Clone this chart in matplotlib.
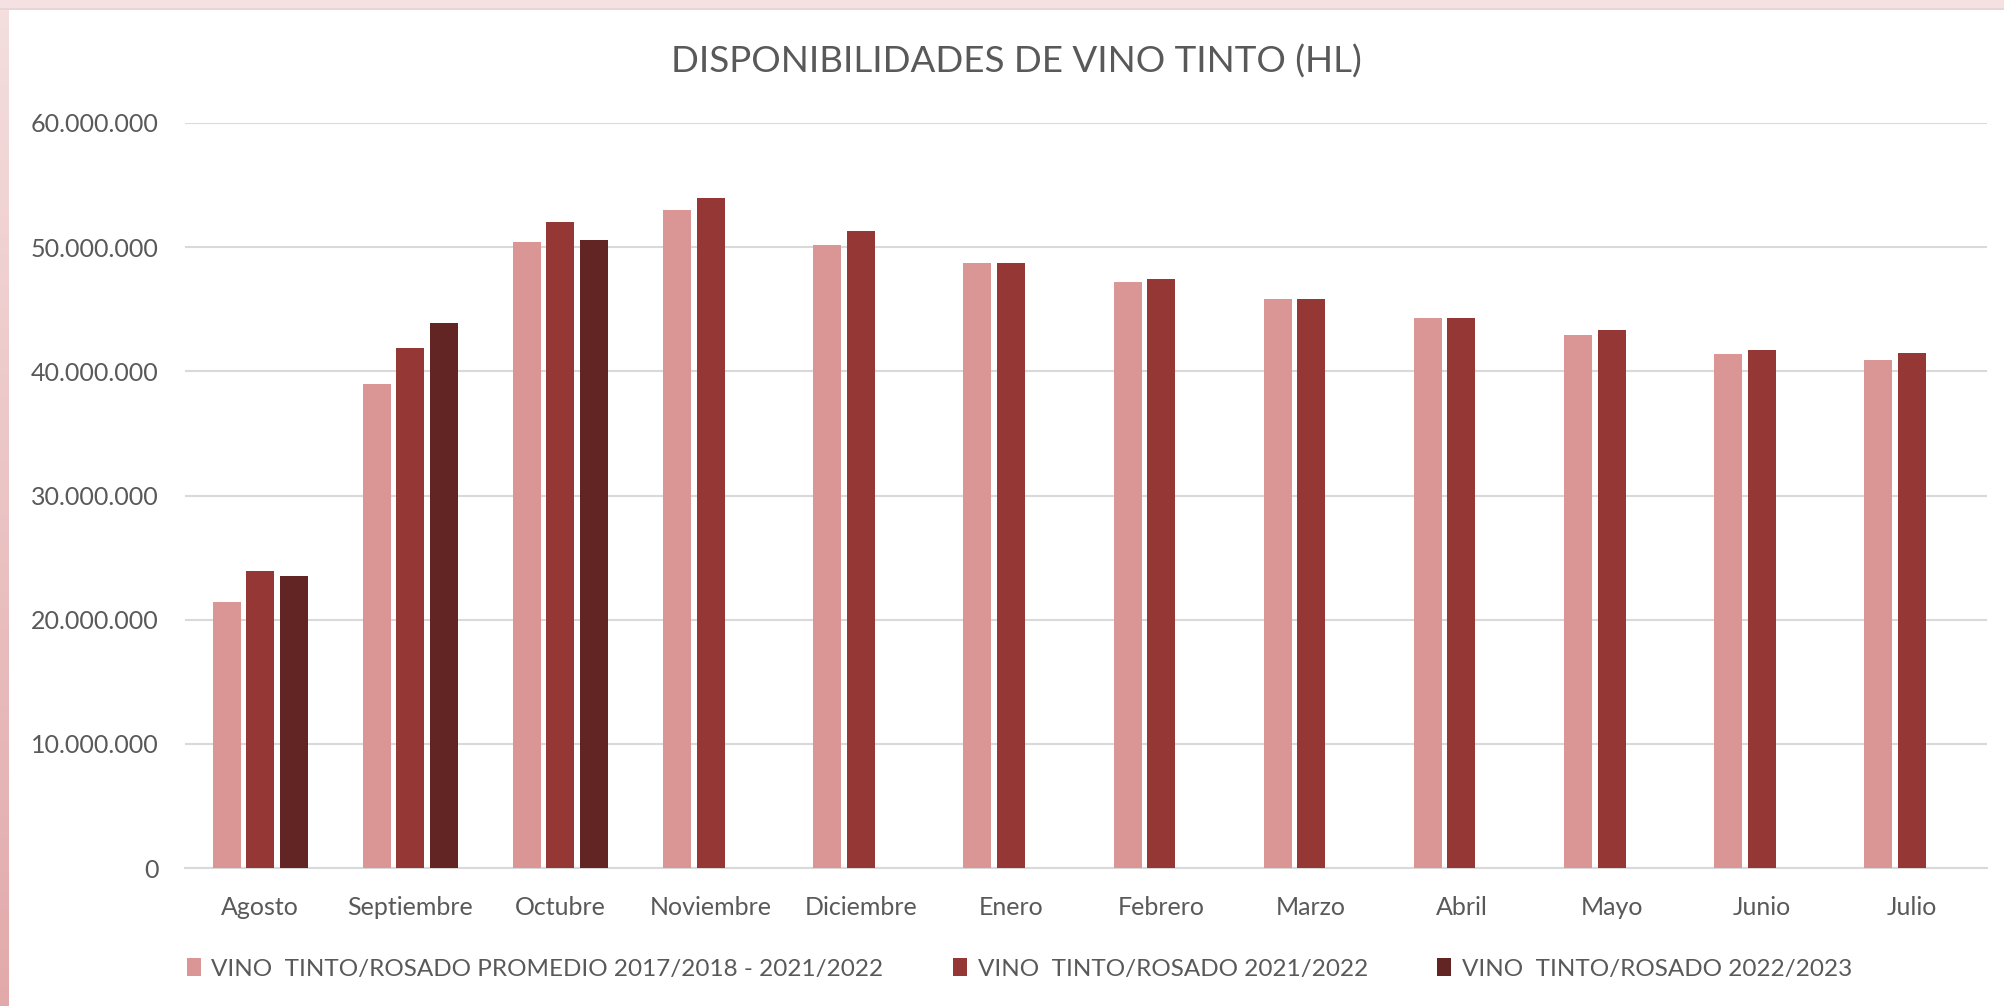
import numpy as np
import matplotlib
matplotlib.use('Agg')
import matplotlib.pyplot as plt
from matplotlib.patches import Rectangle
from matplotlib.colors import LinearSegmentedColormap
from matplotlib.ticker import FuncFormatter

plt.rcParams['font.family'] = ['Lato', 'DejaVu Sans']

meses = ['Agosto', 'Septiembre', 'Octubre', 'Noviembre', 'Diciembre', 'Enero',
         'Febrero', 'Marzo', 'Abril', 'Mayo', 'Junio', 'Julio']

# valores en HL
promedio = [21.4e6, 39.0e6, 50.4e6, 53.0e6, 50.2e6, 48.7e6,
            47.2e6, 45.8e6, 44.3e6, 42.9e6, 41.4e6, 40.9e6]
campana_2122 = [23.9e6, 41.9e6, 52.0e6, 54.0e6, 51.3e6, 48.7e6,
                47.4e6, 45.8e6, 44.3e6, 43.3e6, 41.7e6, 41.5e6]
campana_2223 = [23.5e6, 43.9e6, 50.6e6]

nombres = ['VINO  TINTO/ROSADO PROMEDIO 2017/2018 - 2021/2022',
           'VINO  TINTO/ROSADO 2021/2022',
           'VINO  TINTO/ROSADO 2022/2023']
colores = ['#D99694', '#953735', '#632523']
gris = '#595959'

fig = plt.figure(figsize=(20.04, 10.06), dpi=100)
fig.patch.set_facecolor('white')

# marco rosa (arriba y a la izquierda, como en la captura)
fig.patches.append(Rectangle((0, 1 - 8 / 1006), 1, 8 / 1006, transform=fig.transFigure,
                             facecolor='#F5E1E1', edgecolor='none', zorder=0))
fig.patches.append(Rectangle((0, 1 - 10 / 1006), 1, 2 / 1006, transform=fig.transFigure,
                             facecolor='#E6D6D8', edgecolor='none', zorder=0))
grad_ax = fig.add_axes([0, 0, 9 / 2004, 1 - 8 / 1006])
grad = np.linspace(0, 1, 256).reshape(-1, 1)
cmap_borde = LinearSegmentedColormap.from_list('borde', ['#E2A9AA', '#F4DEDE'])
grad_ax.imshow(grad, aspect='auto', cmap=cmap_borde, origin='lower')
grad_ax.axis('off')

ax = fig.add_axes([185 / 2004, 138 / 1006, 1802 / 2004, 745 / 1006])
x = np.arange(len(meses))
ancho = 0.186
paso = 0.223
series = [promedio, campana_2122, campana_2223]
for i, (vals, nom, col) in enumerate(zip(series, nombres, colores)):
    xs = x[:len(vals)] + (i - 1) * paso
    ax.bar(xs, vals, width=ancho, color=col, label=nom, zorder=3)

ax.set_xlim(-0.5, len(meses) - 0.5)
ax.set_ylim(0, 60e6)
ax.set_yticks(np.arange(0, 60e6 + 1, 10e6))
ax.yaxis.set_major_formatter(FuncFormatter(lambda v, p: f'{int(v):,}'.replace(',', '.')))
ax.set_xticks(x)
ax.set_xticklabels(meses)
ax.grid(axis='y', color='#D9D9D9', linewidth=1.5, zorder=0)
for s in ['top', 'right', 'left']:
    ax.spines[s].set_visible(False)
ax.spines['bottom'].set_color('#D9D9D9')
ax.spines['bottom'].set_linewidth(1.5)
ax.tick_params(axis='both', length=0, labelsize=18, colors=gris)
ax.tick_params(axis='y', pad=19)
ax.tick_params(axis='x', pad=20)

fig.text(0.507, 0.939, 'DISPONIBILIDADES DE VINO TINTO (HL)', ha='center', va='center',
         fontsize=26.5, color=gris)

leg = fig.legend(loc='center', bbox_to_anchor=(0.5087, 0.0368), ncol=3, frameon=False,
                 fontsize=17.5, handlelength=0.57, handleheight=0.72, handletextpad=0.45,
                 columnspacing=2.85, labelcolor=gris)

fig.savefig('out.png', dpi=100, facecolor='white')
